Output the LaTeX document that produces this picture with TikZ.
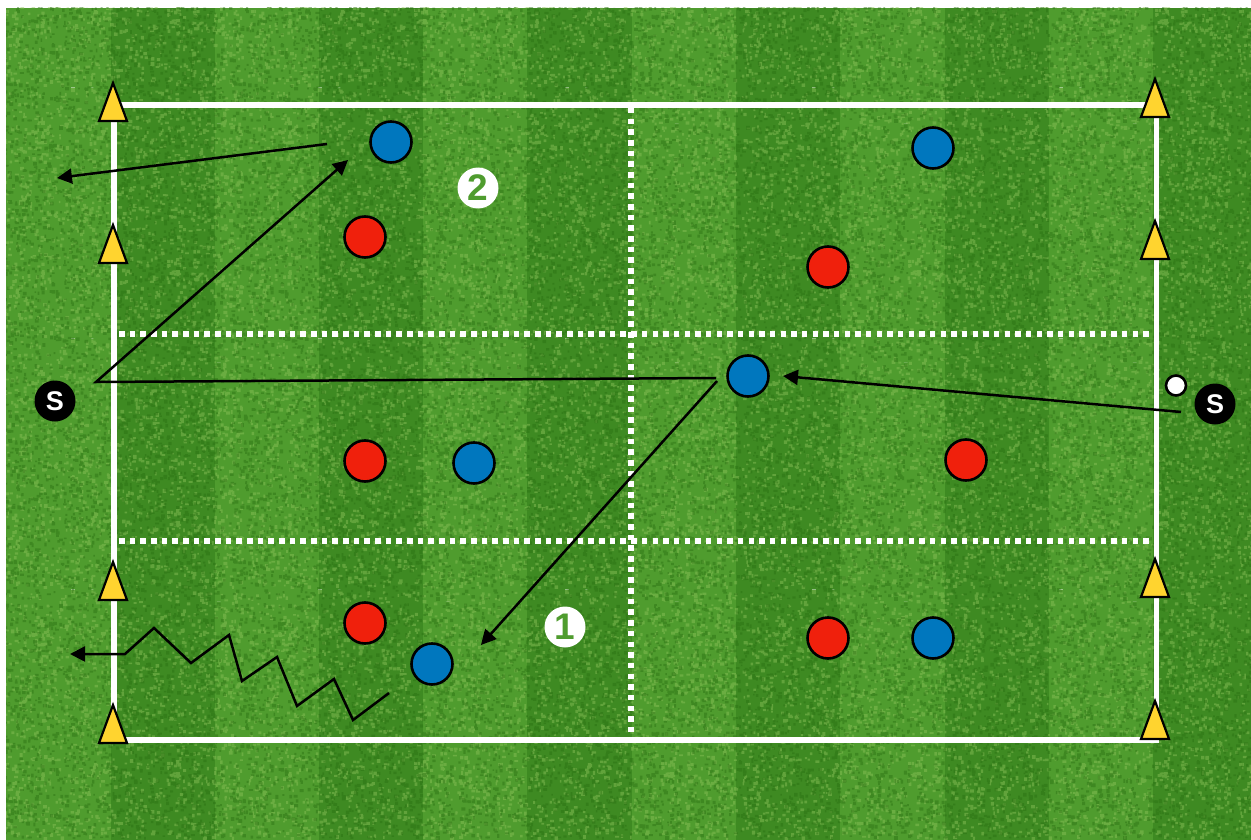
\documentclass[tikz,border=0pt]{standalone}
\usepackage{fontspec}
\setmainfont{Liberation Sans}
\usetikzlibrary{arrows.meta,patterns}
\definecolor{grassL}{HTML}{4F9C2E}
\definecolor{grassD}{HTML}{3E8A22}
\definecolor{speckL}{HTML}{8CC25A}
\definecolor{speckD}{HTML}{2A7012}
\definecolor{blueP}{HTML}{0077BE}
\definecolor{redP}{HTML}{F0200C}
\definecolor{coneY}{HTML}{FFD42F}
\pgfmathsetseed{4711}
\newcommand{\grainrects}[3]{%
  \foreach \i in {1,...,#3}{%
    \pgfmathsetmacro{\qx}{#1*rnd}\pgfmathsetmacro{\qy}{#2*rnd}%
    \pgfmathsetmacro{\qw}{1.5+2.5*rnd}\pgfmathsetmacro{\qh}{1.5+2.5*rnd}%
    \pgfpathrectangle{\pgfpoint{\qx pt}{\qy pt}}{\pgfpoint{\qw pt}{\qh pt}}%
    \pgfusepath{fill}%
  }%
}
\pgfdeclarepatternformonly{grainA}{\pgfqpoint{0pt}{0pt}}{\pgfqpoint{247pt}{251pt}}{\pgfqpoint{247pt}{251pt}}{\grainrects{243}{247}{1500}}
\pgfdeclarepatternformonly{grainB}{\pgfqpoint{0pt}{0pt}}{\pgfqpoint{229pt}{239pt}}{\pgfqpoint{229pt}{239pt}}{\grainrects{225}{235}{1500}}
\tikzset{
  x=1pt,y=-1pt,
  pitchline/.style={draw=white,line width=5.3pt},
  dotline/.style={draw=white,line width=5.5pt,dash pattern=on 5.5pt off 5.17pt},
  player/.style={circle,draw=black,line width=2.6pt,minimum size=41pt,inner sep=0pt},
  blueplayer/.style={player,fill=blueP},
  redplayer/.style={player,fill=redP},
  server/.style={circle,fill=black,minimum size=41pt,inner sep=0pt,text=white,font=\bfseries\fontsize{27}{27}\selectfont},
  ballnode/.style={circle,draw=black,fill=white,line width=2.6pt,minimum size=20pt,inner sep=0pt},
  numbernode/.style={circle,fill=white,minimum size=41pt,inner sep=0pt,text=grassL,font=\bfseries\fontsize{37}{37}\selectfont},
  run/.style={draw=black,line width=2.5pt,line join=miter,-{Triangle[length=15pt,width=15pt]}},
  conepart/.style={draw=black,fill=coneY,line width=2.2pt,line join=miter},
  cone/.pic={\path[conepart] (0,0) -- (14,38) -- (-14,38) -- cycle;}
}
\begin{document}
\begin{tikzpicture}
\useasboundingbox (0,0) rectangle (1251,840);
% grass
\fill[grassL] (6,8) rectangle (1251,840);
\foreach \sx/\ex in {111/215,319/423,527/632,736/840,945/1049,1153/1251}
  \fill[grassD] (\sx,8) rectangle (\ex,840);
\fill[pattern=grainA,pattern color=speckL,opacity=.45] (6,8) rectangle (1251,840);
\fill[pattern=grainB,pattern color=speckD,opacity=.45] (6,8) rectangle (1251,840);
% pitch corners and line ends
\coordinate (tl) at (114,105);
\coordinate (tr) at (1156.5,105);
\coordinate (bl) at (114,740);
\coordinate (br) at (1156.5,740);
\coordinate (ml1) at (119,334);
\coordinate (mr1) at (1152,334);
\coordinate (ml2) at (119,541);
\coordinate (mr2) at (1152,541);
\coordinate (vt) at (631,108);
\coordinate (vb) at (631,737);
\draw[dotline] (ml1) -- (mr1);
\draw[dotline] (ml2) -- (mr2);
\draw[dotline] (vt) -- (vb);
\draw[pitchline] (tl) rectangle (br);
% cones
\foreach \px/\py in {113/83,113/225,113/562,113/705,1155/79,1155/221,1155/559,1155/701}
  \pic at (\px,\py) {cone};
% players
\node[blueplayer] (b1) at (391,142) {};
\node[blueplayer] (b2) at (933,148) {};
\node[blueplayer] (b3) at (748,376) {};
\node[blueplayer] (b4) at (474,463) {};
\node[blueplayer] (b5) at (432,664) {};
\node[blueplayer] (b6) at (933,638) {};
\node[redplayer] (r1) at (365,237) {};
\node[redplayer] (r2) at (828,267) {};
\node[redplayer] (r3) at (365,461) {};
\node[redplayer] (r4) at (966,460) {};
\node[redplayer] (r5) at (365,623) {};
\node[redplayer] (r6) at (828,638) {};
\node[server] (s1) at (55,401) {S};
\node[server] (s2) at (1215,404) {S};
\node[ballnode] (ball) at (1176,385.5) {};
\node[numbernode] (n2) at (478,188) {2};
\node[numbernode] (n1) at (565,627) {1};
% runs and passes
\coordinate (a1) at (1181,412);
\coordinate (a2) at (783,376);
\coordinate (p1) at (716,378);
\coordinate (p2) at (96,382);
\coordinate (p3) at (348,160);
\coordinate (c1) at (717,381);
\coordinate (c2) at (481,645);
\coordinate (d1) at (327,144);
\coordinate (d2) at (57,178);
\draw[run] (a1) -- (a2);
\draw[run] (p1) -- (p2) -- (p3);
\draw[run] (c1) -- (c2);
\draw[run] (d1) -- (d2);
\draw[run] (389,693) -- (353,720) -- (334,679) -- (297,706) -- (277,657) -- (242,681) -- (229,635) -- (191,663) -- (154,628) -- (125,654) -- (70,654);
\end{tikzpicture}
\end{document}
